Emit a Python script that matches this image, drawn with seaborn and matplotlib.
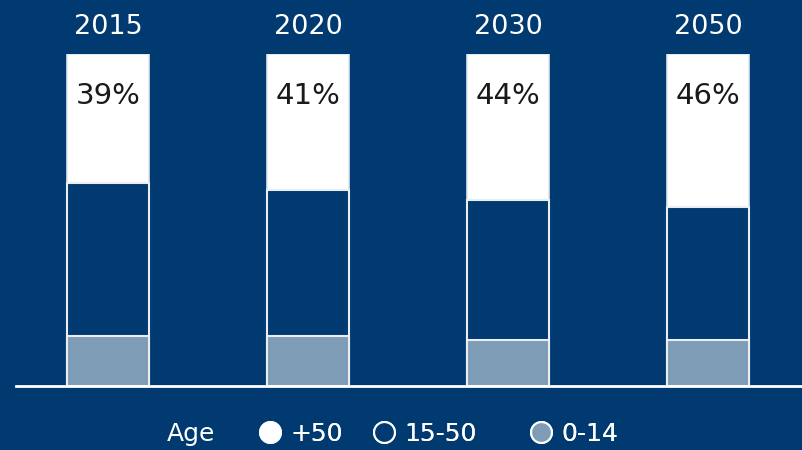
import matplotlib
matplotlib.use("Agg")
import matplotlib.pyplot as plt
import seaborn as sns
import pandas as pd
from matplotlib.lines import Line2D

years = ["2015", "2020", "2030", "2050"]
age_50_plus = [39, 41, 44, 46]
age_15_50 = [46, 44, 42, 40]
age_0_14 = [15, 15, 14, 14]
legend_title = "Age"
series_labels = ["+50", "15-50", "0-14"]

BG = "#003A70"
GRAY = "#7F9CB6"
WHITE = "#FFFFFF"

sns.set_theme(style="white")
plt.rcParams["font.family"] = ["DejaVu Sans"]

df = pd.DataFrame({
    "year": years,
    "a0": age_0_14,
    "a15": age_15_50,
    "a50": age_50_plus,
})
df["cum15"] = df["a0"] + df["a15"]
df["total"] = df["cum15"] + df["a50"]

fig = plt.figure(figsize=(8.03, 4.5), dpi=100, facecolor=BG)
ax = fig.add_axes([16 / 803, 1 - 386 / 450, 1 - 16 / 803, (386 - 54) / 450])
ax.set_facecolor(BG)

w = 0.41
sns.barplot(data=df, x="year", y="total", color=WHITE, width=w, ax=ax,
            edgecolor="#DDE5EE", linewidth=1.2, saturation=1)
sns.barplot(data=df, x="year", y="cum15", color=BG, width=w, ax=ax,
            edgecolor="#E8EEF4", linewidth=1.5, saturation=1)
sns.barplot(data=df, x="year", y="a0", color=GRAY, width=w, ax=ax,
            edgecolor="#E8EEF4", linewidth=1.5, saturation=1)

ax.set_ylim(0, 100)
ax.set_xlim(-0.46, 3.475)
ax.set_xlabel("")
ax.set_ylabel("")
ax.set_xticks([])
ax.set_yticks([])
for s in ["top", "left", "right"]:
    ax.spines[s].set_visible(False)
ax.spines["bottom"].set_color(WHITE)
ax.spines["bottom"].set_linewidth(2)

for i, (yr, v) in enumerate(zip(years, age_50_plus)):
    ax.text(i, 108, yr, ha="center", va="center", color=WHITE, fontsize=19.5,
            clip_on=False)
    ax.text(i, 87.5, f"{v}%", ha="center", va="center", color="#1A1A1A",
            fontsize=21)

fig.text(167 / 803, 1 - 434 / 450, legend_title, ha="left", va="center",
         color=WHITE, fontsize=18)

face_colors = [WHITE, BG, GRAY]
anchors_px = [263, 377, 534]
for label, fc, xp in zip(series_labels, face_colors, anchors_px):
    h = Line2D([], [], marker="o", linestyle="", markersize=15,
               markerfacecolor=fc, markeredgecolor=WHITE, markeredgewidth=1.5)
    leg = fig.legend([h], [label], loc="center left",
                     bbox_to_anchor=(xp / 803, 1 - 434 / 450),
                     frameon=False, labelcolor=WHITE,
                     handlelength=0.6, handletextpad=0.5,
                     borderpad=0, borderaxespad=0, prop={"size": 18})
    fig.add_artist(leg)

fig.savefig("out.png", dpi=100, facecolor=BG)
